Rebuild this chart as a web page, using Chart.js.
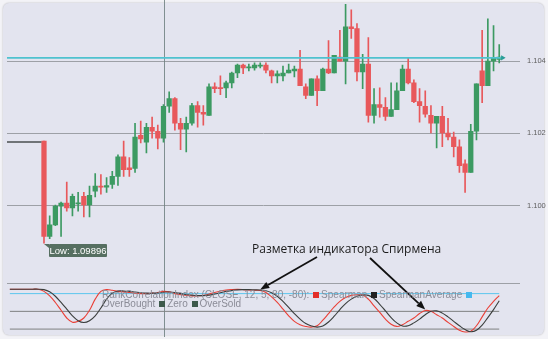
<!DOCTYPE html>
<html><head><meta charset="utf-8">
<script src="https://cdn.jsdelivr.net/npm/chart.js@4.4.1/dist/chart.umd.min.js"></script>
<style>
html,body{margin:0;padding:0;background:#f3f3f7;}
#wrap{position:relative;width:548px;height:339px;overflow:hidden;}
#frame{position:absolute;left:3px;top:3px;width:541px;height:332px;background:#e3e4ef;border-radius:6px;box-shadow:0 0 2px rgba(0,0,0,0.25);}
canvas{position:absolute;left:0;top:0;}
.leg{position:absolute;left:102px;font:10px "Liberation Sans",Arial,sans-serif;color:#8b8c97;white-space:nowrap;line-height:12px;}
.sq{display:inline-block;width:6px;height:6px;margin:0 2px 0 1px;vertical-align:0px;}
#note{position:absolute;left:252px;top:241px;font:12px "Open Sans",sans-serif;color:#1c1c1c;white-space:nowrap;line-height:15px;}
#low{position:absolute;left:49px;top:246px;width:58px;height:13px;background:#566f61;color:#fff;font:9.5px "Liberation Sans",Arial,sans-serif;line-height:13px;text-align:center;border-radius:1px;}
#low:before{content:"";position:absolute;left:-5px;top:0;border-top:4px solid #566f61;border-left:5px solid transparent;}
</style></head>
<body>
<div id="wrap">
<div id="frame"></div>
<canvas id="c" width="548" height="339"></canvas>
<div class="leg" style="top:289px">RankCorrelationIndex (CLOSE, 12, 5, 80, -80): <i class="sq" style="background:#e3302a"></i>Spearman <i class="sq" style="background:#222"></i>SpearmanAverage <i class="sq" style="background:#45b8ee"></i></div>
<div class="leg" style="top:298px">OverBought <i class="sq" style="background:#3d5a4c"></i>Zero <i class="sq" style="background:#3d5a4c"></i>OverSold</div>
<div id="note">Разметка индикатора Спирмена</div>
<div id="low">Low: 1.09896</div>
</div>
<script>
// ---- data ----
const opens  = [1.10179,1.09915,1.09947,1.09999,1.10007,1.09994,1.10005,1.10026,1.10002,1.10040,1.10054,1.10051,1.10059,1.10081,1.10135,1.10105,1.10103,1.10195,1.10176,1.10217,1.10206,1.10187,1.10275,1.10296,1.10228,1.10212,1.10228,1.10277,1.10258,1.10250,1.10329,1.10326,1.10326,1.10340,1.10367,1.10389,1.10381,1.10381,1.10386,1.10389,1.10373,1.10359,1.10359,1.10367,1.10373,1.10378,1.10329,1.10305,1.10351,1.10318,1.10378,1.10367,1.10411,1.10400,1.10495,1.10490,1.10370,1.10392,1.10250,1.10280,1.10272,1.10247,1.10266,1.10318,1.10378,1.10340,1.10288,1.10275,1.10250,1.10228,1.10247,1.10201,1.10190,1.10163,1.10116,1.10092,1.10206,1.10373,1.10332,1.10400,1.10405];
const highs  = [1.10179,1.09972,1.10002,1.10010,1.10065,1.10032,1.10037,1.10037,1.10054,1.10089,1.10086,1.10078,1.10095,1.10141,1.10179,1.10133,1.10228,1.10234,1.10228,1.10245,1.10223,1.10280,1.10315,1.10299,1.10242,1.10245,1.10283,1.10288,1.10277,1.10337,1.10340,1.10359,1.10345,1.10370,1.10392,1.10392,1.10392,1.10395,1.10395,1.10395,1.10375,1.10373,1.10386,1.10392,1.10386,1.10430,1.10337,1.10351,1.10359,1.10381,1.10457,1.10416,1.10485,1.10558,1.10542,1.10504,1.10419,1.10465,1.10324,1.10326,1.10299,1.10340,1.10340,1.10389,1.10408,1.10348,1.10324,1.10318,1.10277,1.10247,1.10275,1.10242,1.10204,1.10182,1.10127,1.10225,1.10337,1.10485,1.10517,1.10498,1.10446];
const lows   = [1.09896,1.09909,1.09945,1.09915,1.09985,1.09972,1.09985,1.09969,1.09969,1.10024,1.10032,1.10037,1.10048,1.10056,1.10081,1.10081,1.10092,1.10174,1.10146,1.10187,1.10157,1.10176,1.10258,1.10209,1.10155,1.10149,1.10223,1.10217,1.10223,1.10250,1.10313,1.10307,1.10299,1.10326,1.10354,1.10365,1.10373,1.10375,1.10381,1.10367,1.10340,1.10340,1.10345,1.10367,1.10356,1.10332,1.10296,1.10305,1.10277,1.10318,1.10365,1.10367,1.10400,1.10337,1.10463,1.10345,1.10324,1.10231,1.10228,1.10245,1.10236,1.10247,1.10266,1.10318,1.10337,1.10285,1.10231,1.10245,1.10201,1.10160,1.10163,1.10182,1.10135,1.10092,1.10037,1.10092,1.10182,1.10285,1.10332,1.10373,1.10395];
const closes = [1.09915,1.09947,1.09999,1.10007,1.09994,1.10026,1.10007,1.10002,1.10029,1.10054,1.10051,1.10056,1.10081,1.10135,1.10100,1.10100,1.10190,1.10185,1.10217,1.10206,1.10187,1.10275,1.10296,1.10228,1.10212,1.10228,1.10277,1.10258,1.10253,1.10329,1.10324,1.10324,1.10340,1.10367,1.10389,1.10381,1.10384,1.10389,1.10389,1.10375,1.10359,1.10365,1.10367,1.10375,1.10378,1.10332,1.10305,1.10351,1.10318,1.10378,1.10367,1.10416,1.10400,1.10495,1.10490,1.10370,1.10392,1.10250,1.10280,1.10272,1.10247,1.10266,1.10318,1.10378,1.10340,1.10288,1.10277,1.10253,1.10228,1.10247,1.10201,1.10190,1.10163,1.10111,1.10092,1.10206,1.10337,1.10332,1.10400,1.10408,1.10411];

// indicator values, starting at bar index -6
const spearman = [100,100,100,100,100,100,90,70,40,5,-30,-49,-45,-30,5,55,90,98,95,90,88,85,82,80,80,82,85,90,88,80,75,72,70,70,72,78,85,92,96,98,99,98,96,95,94,85,65,40,10,-20,-45,-60,-68,-71,-65,-40,-10,20,45,62,72,75,74,55,25,-5,-35,-58,-68,-60,-45,-30,-10,4,0,-15,-30,-50,-68,-85,-93,-90,-65,-25,15,45,71];
const spearmanAverage = [100,100,100,100,100,100,98,88,68,40,10,-20,-42,-50,-42,-20,15,55,82,92,92,90,87,84,82,82,83,86,87,85,80,76,73,71,71,73,78,84,90,94,97,98,98,97,96,93,84,68,45,18,-10,-35,-55,-66,-71,-66,-48,-22,8,35,55,68,74,72,58,32,2,-28,-52,-66,-65,-52,-35,-15,0,2,-8,-25,-45,-65,-82,-92,-85,-62,-28,8,48];
const indicatorStart = -6;
const overBought = 80, zeroLevel = 0, overSold = -80;
const priceTicks = [1.100, 1.102, 1.104];
const lastPrice = 1.10409;
const prevClose = 1.10176;
const crosshairIndex = 21.15;
const arrowTargets = [38, 67];

// ---- styling ----
const RED = '#e8585b', GREEN = '#3c9a62';
Chart.defaults.font.family = '"Liberation Sans", Arial, sans-serif';
const xMin = -6.5, xMax = 83.65;
const lastIdx = opens.length - 1;

const bodies = opens.map((o, i) => ({x: i, y: [o, closes[i]]}));
const wicks = lows.map((l, i) => ({x: i, y: [l, highs[i]]}));
const col = ctx => closes[ctx.dataIndex] >= opens[ctx.dataIndex] ? GREEN : RED;
const toXY = arr => arr.map((v, k) => ({x: k + indicatorStart, y: v}));
const level = v => [{x: indicatorStart, y: v}, {x: lastIdx, y: v}];
const fitAxis = s => { s.width = 28; s.paddingTop = 0; s.paddingBottom = 0; };

const crosshair = {
  id: 'crosshair',
  beforeDatasetsDraw(chart) {
    const c = chart.ctx, x = Math.round(chart.scales.x.getPixelForValue(crosshairIndex)) + 0.5;
    c.save(); c.strokeStyle = 'rgba(110,128,128,0.85)'; c.lineWidth = 1;
    c.beginPath(); c.moveTo(x, 0); c.lineTo(x, 337); c.stroke(); c.restore();
  }
};
const arrows = {
  id: 'arrows',
  afterDraw(chart) {
    const c = chart.ctx, xs = chart.scales.x, ys = chart.scales.yI;
    const tails = [[317, 257], [370, 258]];
    arrowTargets.forEach((idx, n) => {
      const tx = xs.getPixelForValue(idx), ty = ys.getPixelForValue(spearman[idx - indicatorStart]) - 1;
      const [sx, sy] = tails[n];
      const ang = Math.atan2(ty - sy, tx - sx), L = 9, W = 3.5;
      const bx = tx - L * Math.cos(ang), by = ty - L * Math.sin(ang);
      c.save(); c.strokeStyle = '#111'; c.fillStyle = '#111'; c.lineWidth = 1.8;
      c.beginPath(); c.moveTo(sx, sy); c.lineTo(bx, by); c.stroke();
      c.beginPath(); c.moveTo(tx, ty);
      c.lineTo(bx + W * Math.sin(ang), by - W * Math.cos(ang));
      c.lineTo(bx - W * Math.sin(ang), by + W * Math.cos(ang));
      c.closePath(); c.fill(); c.restore();
    });
    const lowEl = document.getElementById('low');
    const lx = xs.getPixelForValue(0), ly = chart.scales.y.getPixelForValue(lows[0]);
    lowEl.style.left = (lx + 5) + 'px'; lowEl.style.top = (ly + 1) + 'px';
  }
};

new Chart(document.getElementById('c'), {
  type: 'bar',
  data: {
    datasets: [
      {type: 'line', data: [{x: xMin, y: lastPrice}, {x: lastIdx + 0.6, y: lastPrice}], yAxisID: 'y', borderColor: '#4fc2cf', borderWidth: 1.6, pointRadius: [0, 3], pointStyle: 'triangle', rotation: 90, pointBackgroundColor: '#2a9d96', pointBorderWidth: 0, order: 0},
      {type: 'line', data: [{x: indicatorStart - 0.5, y: prevClose}, {x: -0.45, y: prevClose}], yAxisID: 'y', borderColor: '#4a4f4f', borderWidth: 1.5, pointRadius: 0, order: 0},
      {data: bodies, yAxisID: 'y', backgroundColor: col, barThickness: 4.6, grouped: false, minBarLength: 1, order: 1},
      {data: wicks, yAxisID: 'y', backgroundColor: col, barThickness: 1, grouped: false, order: 2},
      {type: 'line', data: level(overBought), yAxisID: 'yI', borderColor: '#5cc6ee', borderWidth: 1, pointRadius: 0, order: 3},
      {type: 'line', data: level(zeroLevel), yAxisID: 'yI', borderColor: '#7e8080', borderWidth: 1, pointRadius: 0, order: 3},
      {type: 'line', data: level(overSold), yAxisID: 'yI', borderColor: '#7e8080', borderWidth: 1, pointRadius: 0, order: 3},
      {type: 'line', data: toXY(spearmanAverage), yAxisID: 'yI', borderColor: '#3a3d3c', borderWidth: 1.1, pointRadius: 0, tension: 0.4, order: 0},
      {type: 'line', data: toXY(spearman), yAxisID: 'yI', borderColor: '#ea3f36', borderWidth: 1.1, pointRadius: 0, tension: 0.4, order: 0}
    ]
  },
  options: {
    responsive: false, animation: false, devicePixelRatio: 1,
    layout: {padding: {left: 7, top: 2, right: 0, bottom: 1}},
    plugins: {legend: {display: false}, tooltip: {enabled: false}},
    scales: {
      x: {type: 'linear', min: xMin, max: xMax, display: false, offset: false},
      y: {position: 'right', stack: 'pane', stackWeight: 284, min: 1.09784, max: 1.10558, offset: false,
          afterFit: fitAxis,
          afterBuildTicks(s) { s.ticks = priceTicks.map(v => ({value: v})); },
          grid: {color: '#9da0a6', drawTicks: false}, border: {display: false},
          ticks: {padding: 7, color: '#5e5e5e', font: {size: 7.5}, callback: v => Number(v).toFixed(3)}},
      yI: {position: 'right', stack: 'pane', stackWeight: 52, min: -106.7, max: 124.4, offset: false,
          afterFit: fitAxis,
          afterBuildTicks(s) { s.ticks = [{value: s.max}]; },
          grid: {color: '#9da0a6', drawTicks: false}, border: {display: false},
          ticks: {display: false}}
    }
  },
  plugins: [crosshair, arrows]
});
</script>
</body></html>
